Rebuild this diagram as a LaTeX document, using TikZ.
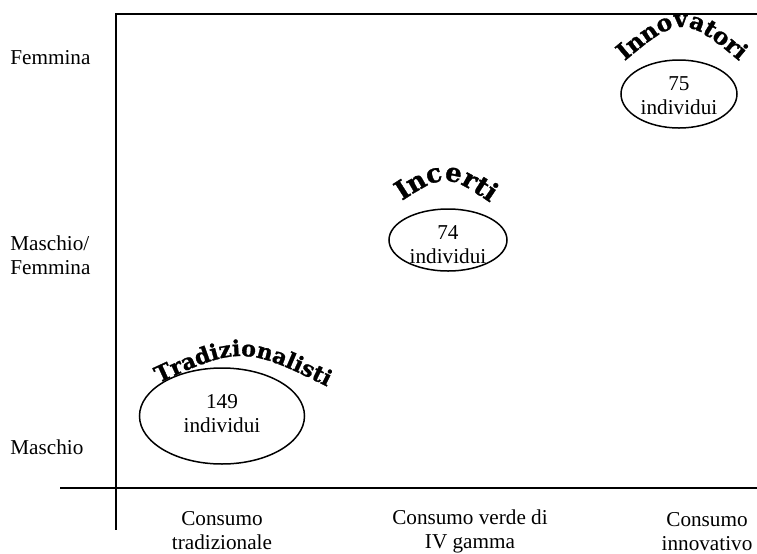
\documentclass[tikz,border=0pt]{standalone}
\usepackage{fontspec}
\setmainfont{Liberation Serif}
\newfontfamily\titfont[FakeBold=1.2]{DejaVu Serif}
\usepackage{tikz}
\usetikzlibrary{calc, shapes.geometric, decorations.text}
\tikzset{
  etichetta/.style = {align=center, inner sep=0pt, text centered,
    font=\fontsize{10.6}{12}\selectfont},
  lbl_y/.style = {etichetta, anchor=west, align=left},% etichette asse verticale
  gruppo/.style = {ellipse, draw=black, inner sep=0pt,
    line width=0.75pt},% ellisse del gruppo
  asse/.style = {line width=0.9pt},% assi del grafico
  titolo/.style 2 args = {decorate, decoration={text along path,
    text align=center,
    text={|\titfont\bfseries\fontsize{#1}{#1}\selectfont|#2}}}% titolo curvo
}

\begin{document}
\begin{tikzpicture}[x=0.5pt, y=0.5pt]
\useasboundingbox (0,0) rectangle (757,-553);

% assi
\coordinate (top) at (116,-14);
\coordinate (topr) at (757,-14);
\coordinate (bot) at (116,-530);
\coordinate (xl) at (60,-488);
\coordinate (xr) at (757,-488);
\coordinate (orig) at (116,-488);
\draw[asse] (topr) -- (top) -- (bot);
\draw[asse] (xl) -- (xr);
\draw[asse, line width=1.3pt] ($(orig)+(0,38)$) -- (orig) -- ($(orig)+(37,0)$);

% etichette
\node[lbl_y] (femm) at (10,-58) {Femmina};
\node[lbl_y] (mf) at (10,-255) {Maschio/\\Femmina};
\node[lbl_y] (masc) at (10,-447) {Maschio};
\node[etichetta] (ctrad) at (222,-531) {Consumo\\tradizionale};
\node[etichetta] (cverde) at (470,-531) {Consumo verde di\\IV gamma};
\node[etichetta] (cinn) at (707,-532) {Consumo\\innovativo};

% gruppi
\node[gruppo, minimum width=82.5pt, minimum height=48pt] (trad) at (222,-416) {};
\node[gruppo, minimum width=59pt, minimum height=31pt] (inc) at (448,-240) {};
\node[gruppo, minimum width=58pt, minimum height=34pt] (inn) at (679,-94) {};
\node[etichetta] (trad_n) at ($(trad)+(0,2)$) {149\\individui};
\node[etichetta] (inc_n) at ($(inc)+(0,-5)$) {74\\individui};
\node[etichetta] (inn_n) at ($(inn)+(0,-2)$) {75\\individui};

% titoli
\path[titolo={11}{Tradizionalisti}] (144,-390) .. controls (242,-344) .. (342,-394);
\path[titolo={13}{Incerti}] (394,-206) .. controls (446,-172) .. (498,-208);
\path[titolo={11.6}{Innovatori}] (612,-72) .. controls (682,-12) .. (752,-72);
\end{tikzpicture}
\end{document}
